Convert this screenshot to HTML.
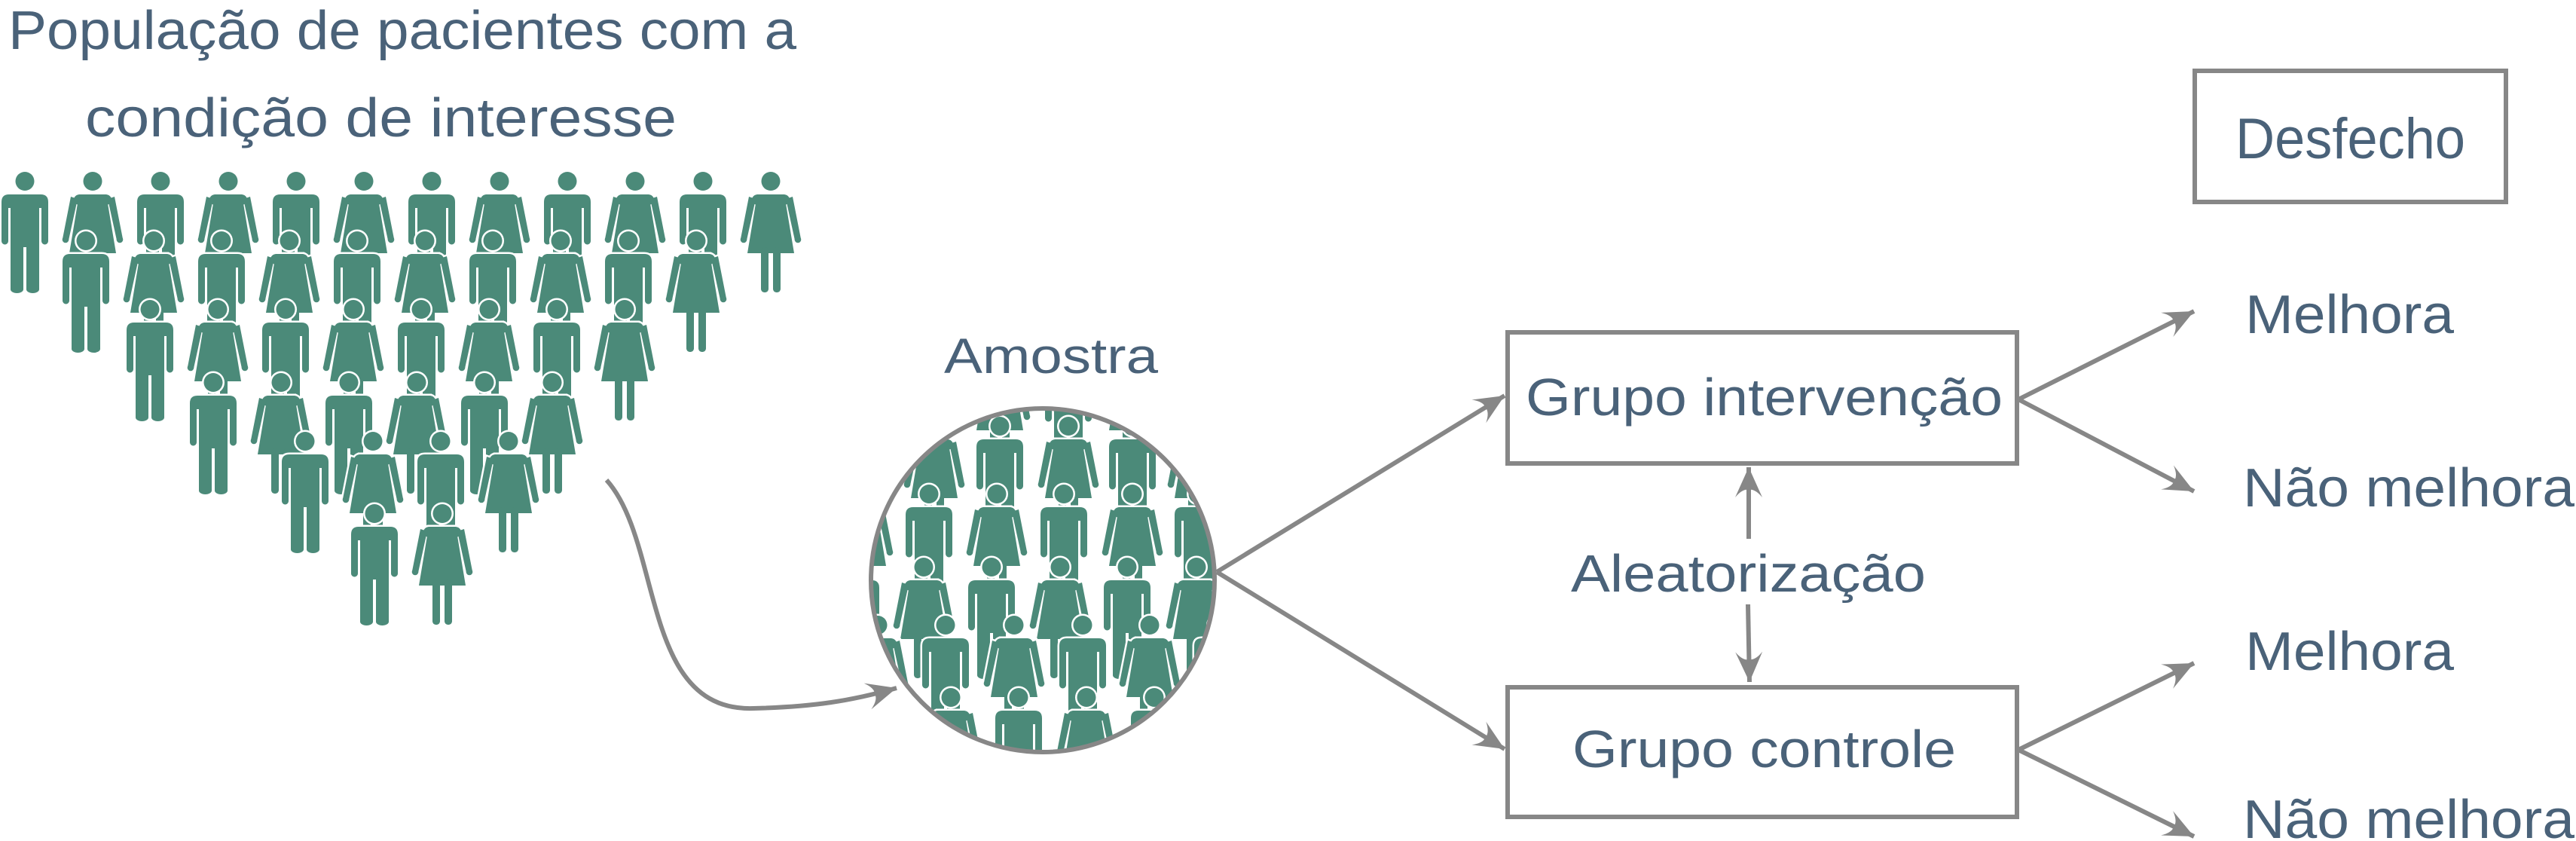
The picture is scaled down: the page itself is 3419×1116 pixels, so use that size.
<!DOCTYPE html>
<html><head><meta charset="utf-8"><style>
html,body{margin:0;padding:0;background:#fff;}
svg{display:block;}
text{font-family:"Liberation Sans",sans-serif;fill:#4a6279;}
</style></head><body>
<svg width="3419" height="1116" viewBox="0 0 3419 1116" xmlns="http://www.w3.org/2000/svg">
<defs>
<g id="ms">
<circle cx="0" cy="12.5" r="12.5"/>
<path d="M-31,92 V40 Q-31,30 -21,30 H21 Q31,30 31,40 V92 a4.5,4.5 0 0 1 -9,0 V48 H19 V156 a8.5,5 0 0 1 -17,0 V100 H-2 V156 a8.5,5 0 0 1 -17,0 V48 H-22 V92 a4.5,4.5 0 0 1 -9,0 Z"/>
</g>
<g id="ws">
<circle cx="0" cy="12.5" r="12.5"/>
<rect x="-25" y="30" width="50" height="14" rx="8"/>
<path d="M-18,30 H18 L31,108 H-31 Z"/>
<polygon points="20,36 29,33 40,89 32,91"/>
<circle cx="36" cy="90" r="4.3"/>
<polygon points="-20,36 -29,33 -40,89 -32,91"/>
<circle cx="-36" cy="90" r="4.3"/>
<rect x="-13" y="100" width="10" height="60" rx="4.5"/>
<rect x="3" y="100" width="10" height="60" rx="4.5"/>
</g>
<g id="m"><use href="#ms" fill="#fff" stroke="#fff" stroke-width="5"/><use href="#ms" fill="#4b8a79"/></g>
<g id="w"><use href="#ws" fill="#fff" stroke="#fff" stroke-width="5"/><use href="#ws" fill="#4b8a79"/></g>
<clipPath id="cc"><circle cx="1384" cy="770" r="226"/></clipPath>
<marker id="ah" viewBox="-42 -20 44 40" refX="0" refY="0" markerWidth="44" markerHeight="40" markerUnits="userSpaceOnUse" orient="auto">
<path d="M0,0 L-40,-18 Q-28,-8 -30,0 Q-28,8 -40,18 Z" fill="#878787"/>
</marker>
</defs>

<text x="11" y="65" font-size="72" textLength="1046" lengthAdjust="spacingAndGlyphs">População de pacientes com a</text>
<text x="113" y="181" font-size="72" textLength="785" lengthAdjust="spacingAndGlyphs">condição de interesse</text>

<!-- population -->
<g>
<use href="#m" x="33" y="228"/><use href="#w" x="123" y="228"/><use href="#m" x="213" y="228"/><use href="#w" x="303" y="228"/><use href="#m" x="393" y="228"/><use href="#w" x="483" y="228"/><use href="#m" x="573" y="228"/><use href="#w" x="663" y="228"/><use href="#m" x="753" y="228"/><use href="#w" x="843" y="228"/><use href="#m" x="933" y="228"/><use href="#w" x="1023" y="228"/>
<use href="#m" x="114" y="307"/><use href="#w" x="204" y="307"/><use href="#m" x="294" y="307"/><use href="#w" x="384" y="307"/><use href="#m" x="474" y="307"/><use href="#w" x="564" y="307"/><use href="#m" x="654" y="307"/><use href="#w" x="744" y="307"/><use href="#m" x="834" y="307"/><use href="#w" x="924" y="307"/>
<use href="#m" x="199" y="398"/><use href="#w" x="289" y="398"/><use href="#m" x="379" y="398"/><use href="#w" x="469" y="398"/><use href="#m" x="559" y="398"/><use href="#w" x="649" y="398"/><use href="#m" x="739" y="398"/><use href="#w" x="829" y="398"/>
<use href="#m" x="283" y="495"/><use href="#w" x="373" y="495"/><use href="#m" x="463" y="495"/><use href="#w" x="553" y="495"/><use href="#m" x="643" y="495"/><use href="#w" x="733" y="495"/>
<use href="#m" x="405" y="573"/><use href="#w" x="495" y="573"/><use href="#m" x="585" y="573"/><use href="#w" x="675" y="573"/>
<use href="#m" x="497" y="669"/><use href="#w" x="587" y="669"/>
</g>

<!-- sample -->
<text x="1253" y="495" font-size="66" textLength="284" lengthAdjust="spacingAndGlyphs">Amostra</text>
<g clip-path="url(#cc)">
<use href="#m" x="1240" y="463"/><use href="#w" x="1327" y="463"/><use href="#m" x="1418" y="463"/><use href="#w" x="1503" y="463"/><use href="#m" x="1590" y="463"/>
<use href="#m" x="1150" y="553"/><use href="#w" x="1240" y="553"/><use href="#m" x="1327" y="553"/><use href="#w" x="1418" y="553"/><use href="#m" x="1503" y="553"/><use href="#w" x="1590" y="553"/>
<use href="#w" x="1145" y="643"/><use href="#m" x="1233" y="643"/><use href="#w" x="1323" y="643"/><use href="#m" x="1412" y="643"/><use href="#w" x="1503" y="643"/><use href="#m" x="1590" y="643"/>
<use href="#m" x="1136" y="740"/><use href="#w" x="1226" y="740"/><use href="#m" x="1316" y="740"/><use href="#w" x="1407" y="740"/><use href="#m" x="1496" y="740"/><use href="#w" x="1588" y="740"/>
<use href="#w" x="1165" y="817"/><use href="#m" x="1255" y="817"/><use href="#w" x="1346" y="817"/><use href="#m" x="1437" y="817"/><use href="#w" x="1526" y="817"/><use href="#m" x="1616" y="817"/>
<use href="#w" x="1262" y="913"/><use href="#m" x="1352" y="913"/><use href="#w" x="1442" y="913"/><use href="#m" x="1532" y="913"/>
</g>
<circle cx="1384" cy="770" r="228" fill="none" stroke="#878787" stroke-width="6"/>

<!-- connectors -->
<g fill="none" stroke="#878787" stroke-width="6">
<path d="M805,637 C880,720 850,945 1000,940 C1080,938 1130,930 1190,913" marker-end="url(#ah)"/>
<line x1="1615" y1="759" x2="1997" y2="525" marker-end="url(#ah)"/>
<line x1="1615" y1="759" x2="1997" y2="994" marker-end="url(#ah)"/>
<line x1="2679" y1="530" x2="2912" y2="413" marker-end="url(#ah)"/>
<line x1="2679" y1="530" x2="2912" y2="652" marker-end="url(#ah)"/>
<line x1="2679" y1="995" x2="2912" y2="880" marker-end="url(#ah)"/>
<line x1="2679" y1="995" x2="2912" y2="1110" marker-end="url(#ah)"/>
<line x1="2321" y1="715" x2="2321" y2="620" marker-end="url(#ah)"/>
<line x1="2320" y1="802" x2="2322" y2="905" marker-end="url(#ah)"/>
</g>

<!-- boxes -->
<g fill="none" stroke="#878787" stroke-width="6">
<rect x="2001" y="441" width="676" height="174"/>
<rect x="2001" y="912" width="676" height="172"/>
<rect x="2913" y="94" width="413" height="174"/>
</g>

<text x="2025" y="551" font-size="70" textLength="633" lengthAdjust="spacingAndGlyphs">Grupo intervenção</text>
<text x="2085" y="785" font-size="70" textLength="471" lengthAdjust="spacingAndGlyphs">Aleatorização</text>
<text x="2087" y="1018" font-size="70" textLength="509" lengthAdjust="spacingAndGlyphs">Grupo controle</text>
<text x="2967" y="210" font-size="76" textLength="305" lengthAdjust="spacingAndGlyphs">Desfecho</text>
<text x="2980" y="442" font-size="72" textLength="277" lengthAdjust="spacingAndGlyphs">Melhora</text>
<text x="2977" y="672" font-size="72" textLength="440" lengthAdjust="spacingAndGlyphs">Não melhora</text>
<text x="2980" y="889" font-size="72" textLength="277" lengthAdjust="spacingAndGlyphs">Melhora</text>
<text x="2977" y="1112" font-size="72" textLength="440" lengthAdjust="spacingAndGlyphs">Não melhora</text>
</svg>
</body></html>
